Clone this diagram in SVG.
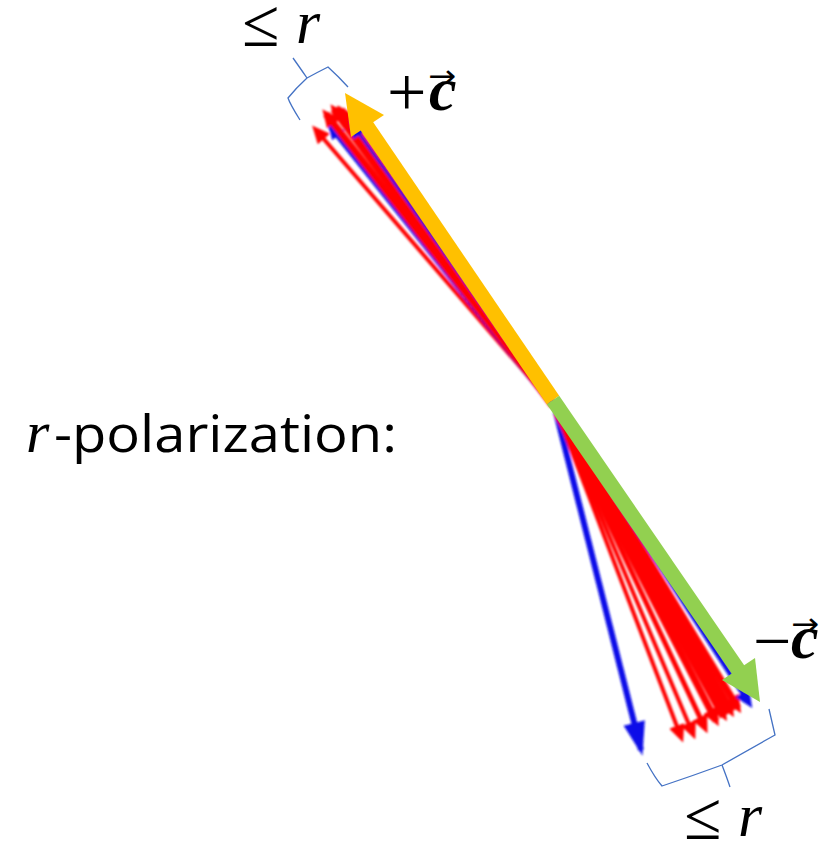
<svg xmlns="http://www.w3.org/2000/svg" width="826" height="844" viewBox="0 0 826 844">
<style>
.ser{font-family:"Liberation Serif","DejaVu Serif",serif;fill:#000}
.it{font-style:italic}
.vec{font-weight:bold;font-style:italic}
.acc{font-family:"DejaVu Sans",sans-serif;fill:#000}
.red{stroke:#FF0000;fill:none}
.blue{stroke:#1010E8;fill:none}
.brace{stroke:#4472C4;stroke-width:1.3;fill:none}
</style>
<defs>
<marker id="rh" markerUnits="userSpaceOnUse" viewBox="0 0 18 16" refX="12" refY="8" markerWidth="18" markerHeight="16" orient="auto">
<path d="M0,0 L18,8 L0,16 z" fill="#FF0000"/>
</marker>
<marker id="bh" markerUnits="userSpaceOnUse" viewBox="0 0 18 16" refX="12" refY="8" markerWidth="18" markerHeight="16" orient="auto">
<path d="M0,0 L18,8 L0,16 z" fill="#1010E8"/>
</marker>
<marker id="bbig" markerUnits="userSpaceOnUse" viewBox="0 0 34 22" refX="28" refY="11" markerWidth="34" markerHeight="22" orient="auto">
<path d="M0,0 L34,11 L0,22 z" fill="#1010E8"/>
</marker>
<filter id="soft" x="-10%" y="-10%" width="120%" height="120%">
<feGaussianBlur stdDeviation="0.9"/>
</filter>
</defs>
<rect width="826" height="844" fill="#fff"/>
<g id="connectors">
<g id="fan-up" filter="url(#soft)">
<line class="red" x1="553" y1="405" x2="316" y2="130" stroke-width="4" marker-end="url(#rh)"/>
<line class="blue" x1="553" y1="405" x2="331" y2="126" stroke-width="7" marker-end="url(#bh)"/>
<line class="red" x1="553" y1="405" x2="326" y2="114" stroke-width="7" marker-end="url(#rh)"/>
<line class="red" x1="553" y1="405" x2="334" y2="109" stroke-width="8" marker-end="url(#rh)"/>
<line class="red" x1="553" y1="405" x2="341" y2="110" stroke-width="8" marker-end="url(#rh)"/>
<line class="red" x1="553" y1="405" x2="347" y2="116" stroke-width="6" marker-end="url(#rh)"/>
<line class="blue" x1="553" y1="405" x2="353" y2="125" stroke-width="3" marker-end="url(#bh)"/>
</g>
<g id="fan-down" filter="url(#soft)">
<line class="blue" x1="556" y1="412" x2="641" y2="750" stroke-width="6" marker-end="url(#bbig)"/>
<line class="red" x1="558" y1="415" x2="681" y2="737" stroke-width="4" marker-end="url(#rh)"/>
<line class="red" x1="558" y1="415" x2="693" y2="734" stroke-width="4" marker-end="url(#rh)"/>
<line class="red" x1="558" y1="415" x2="705" y2="728" stroke-width="5" marker-end="url(#rh)"/>
<line class="red" x1="558" y1="415" x2="716" y2="721" stroke-width="7" marker-end="url(#rh)"/>
<line class="red" x1="558" y1="413" x2="724" y2="716" stroke-width="9" marker-end="url(#rh)"/>
<line class="red" x1="558" y1="412" x2="731" y2="712" stroke-width="9" marker-end="url(#rh)"/>
<line class="red" x1="558" y1="410" x2="738" y2="708" stroke-width="7" marker-end="url(#rh)"/>
<line class="blue" x1="558" y1="408" x2="749" y2="703" stroke-width="5" marker-end="url(#bh)"/>
</g>
<g id="plus-c-arrow">
<line x1="553" y1="400" x2="366" y2="125" stroke="#FFC000" stroke-width="15"/>
<polygon points="345,93 384,115 351,137" fill="#FFC000"/>
</g>
<g id="minus-c-arrow">
<line x1="553" y1="400" x2="739" y2="671" stroke="#92D050" stroke-width="15"/>
<polygon points="760,702 755,658 722,680" fill="#92D050"/>
</g>
</g>
<g id="brace-top">
<path class="brace" d="M300,120 Q290,104 288,98 Q296,88 307,78 Q298,65 293,58 M307,78 Q318,72 328,67 Q339,77 348,87"/>
</g>
<g id="brace-bottom">
<path class="brace" d="M647,763 Q655,778 662,786 Q692,776 722,765 Q727,778 730,787 M722,765 Q748,750 775,735 Q772,722 769,709"/>
</g>
<g id="label-top" class="ser">
<text x="242" y="46" font-size="68">≤</text>
<text class="it" x="296" y="43" font-size="62">r</text>
</g>
<g id="label-plus-c" class="ser">
<text x="387" y="116" font-size="70">+</text>
<text class="vec" x="429" y="110" font-size="62">c</text>
<text class="acc" x="428" y="86" font-size="30" textLength="28" lengthAdjust="spacingAndGlyphs">→</text>
</g>
<g id="label-minus-c" class="ser">
<text x="753" y="664" font-size="68">−</text>
<text class="vec" x="791" y="658" font-size="62">c</text>
<text class="acc" x="791" y="634" font-size="30" textLength="28" lengthAdjust="spacingAndGlyphs">→</text>
</g>
<g id="label-bottom" class="ser">
<text x="684" y="839" font-size="68">≤</text>
<text class="it" x="738" y="836" font-size="62">r</text>
</g>
<g id="label-main">
<text class="ser it" x="26" y="452" font-size="60">r</text>
<text x="54" y="452" font-size="52" font-family="Open Sans, Liberation Sans, sans-serif" textLength="343" lengthAdjust="spacingAndGlyphs">-polarization:</text>
</g>
</svg>
